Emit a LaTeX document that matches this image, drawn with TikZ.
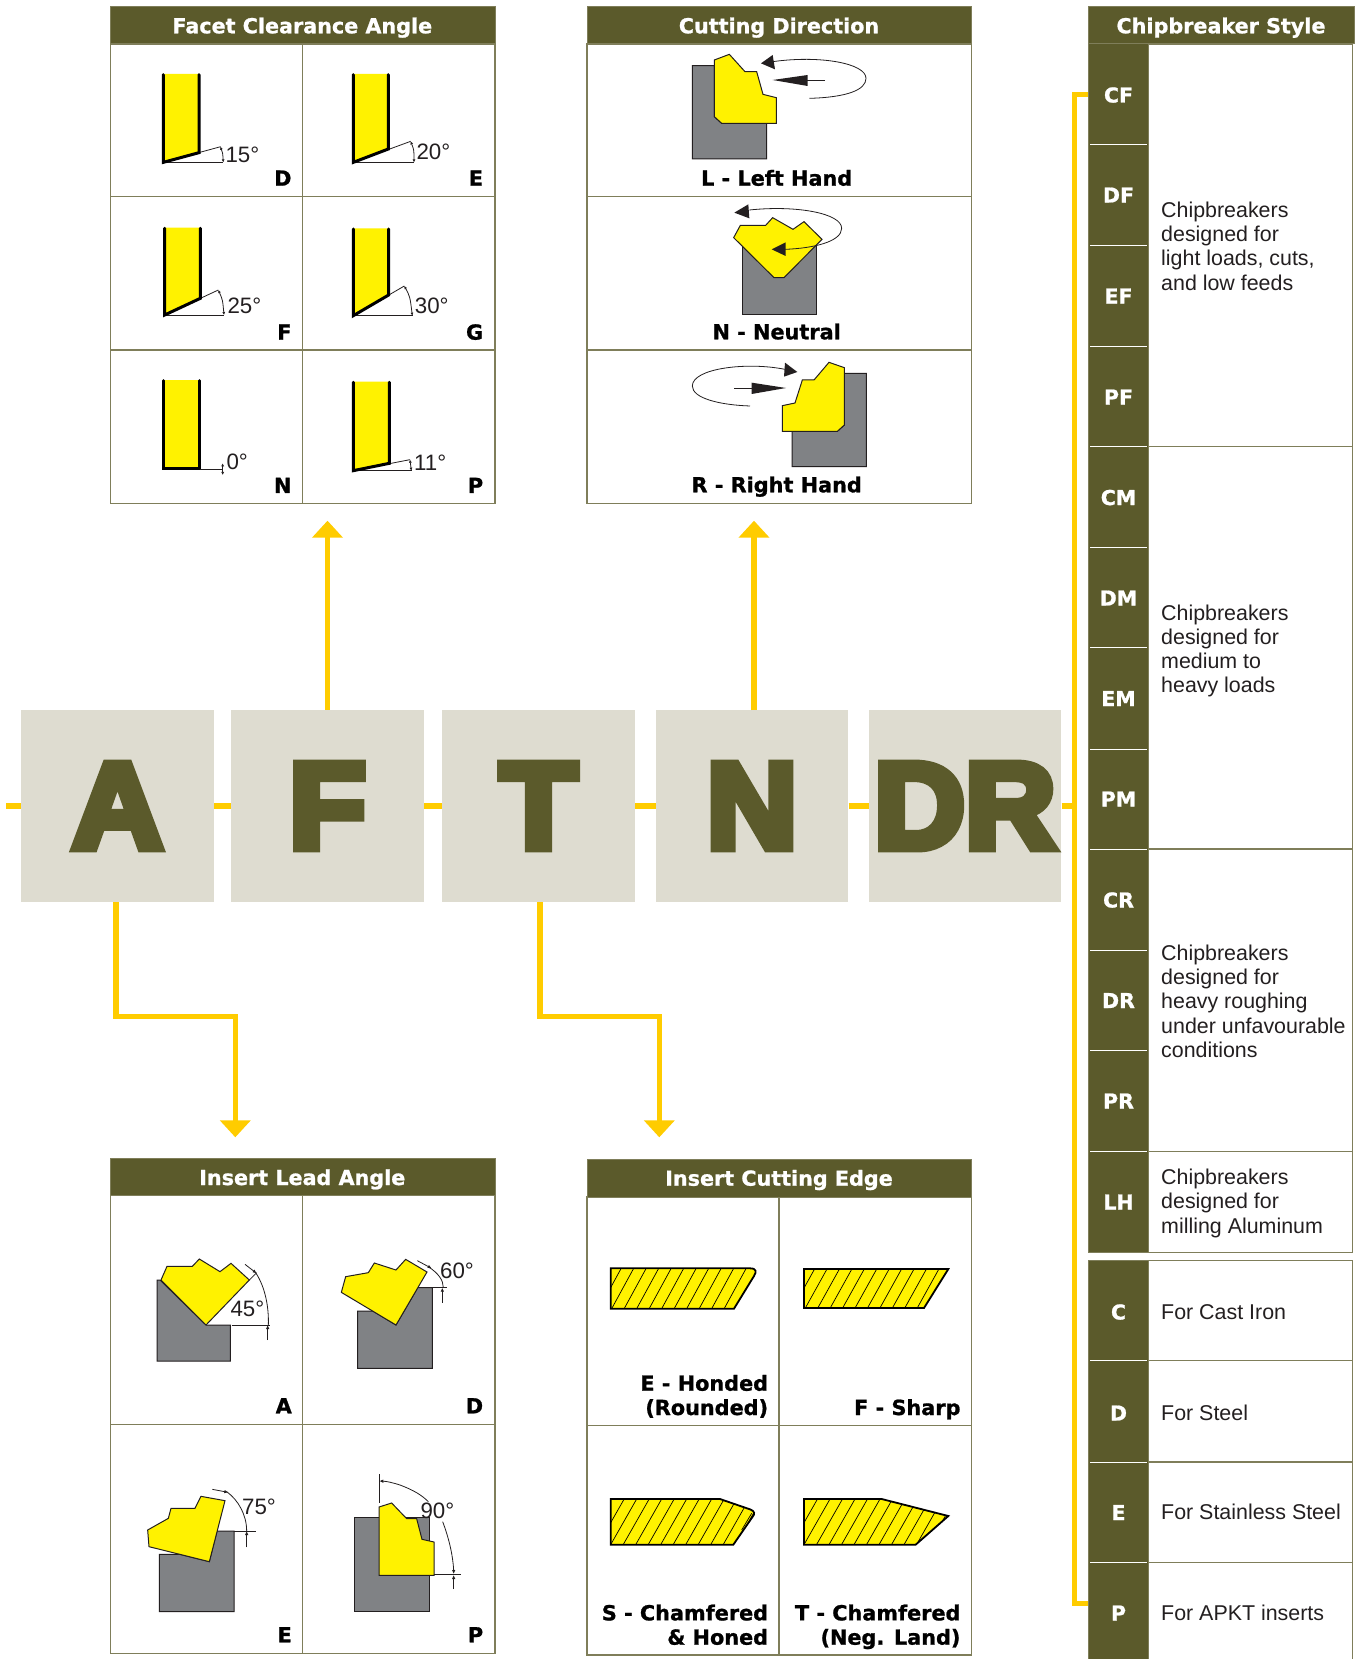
\documentclass[tikz,border=0pt]{standalone}
\usepackage{fontspec}
\usetikzlibrary{arrows.meta}
\setmainfont{Liberation Sans}
\newfontfamily\hvy[BoldFeatures={FakeBold=1}]{DejaVu Sans}
\newfontfamily\bigf[BoldFeatures={FakeStretch=1.03,FakeBold=7.3}]{Liberation Sans}
\definecolor{olivec}{HTML}{5B5A2B}
\definecolor{pline}{HTML}{7F7E5A}
\definecolor{connc}{HTML}{FFCC00}
\definecolor{ylw}{HTML}{FFF200}
\definecolor{gry}{HTML}{808285}
\definecolor{ink}{HTML}{231F20}
\definecolor{boxc}{HTML}{DEDCD0}
\tikzset{
 headt/.style={inner sep=0,anchor=base,text=white,font=\hvy\bfseries\fontsize{20.7}{24}\selectfont},
 codet/.style={inner sep=0,anchor=base,text=white,font=\hvy\bfseries\fontsize{20.5}{24}\selectfont},
 tagt/.style={inner sep=0,anchor=base east,text=black,align=right,font=\hvy\bfseries\fontsize{20.8}{24.3}\selectfont},
 ctag/.style={inner sep=0,anchor=base,text=black,font=\hvy\bfseries\fontsize{20.8}{24.3}\selectfont},
 bodyt/.style={inner sep=0,anchor=base west,text=ink,align=left,font=\fontsize{21.4}{24.2}\selectfont},
 dimt/.style={inner sep=0,anchor=base west,text=ink,font=\fontsize{22.3}{24}\selectfont},
 bigbox/.style={fill=boxc,minimum width=192.6pt,minimum height=192pt,inner sep=0,text=olivec,font=\bigf\bfseries\fontsize{122}{122}\selectfont},
 linkln/.style={draw=connc,line width=5.3pt,line join=miter},
 linkhead/.style={linkln,-{Triangle[length=17pt,width=30pt]}},
 pl/.style={draw=pline,line width=1.2pt},
 zoomed/.style={x=0.33333pt,y=-0.33333pt},
 ylwpoly/.style={fill=ylw,draw=ink,line width=1pt,line join=miter},
 stock/.style={fill=gry,draw=ink,line width=1pt},
 heavyln/.style={draw=black,line width=3pt,line cap=round},
 dimln/.style={draw=ink,line width=0.8pt},
 sm/.style={draw=ink,line width=0.8pt,-{Latex[length=4pt,width=3.5pt]}},
 smb/.style={draw=ink,line width=0.8pt,{Latex[length=3pt,width=3pt]}-{Latex[length=3pt,width=3pt]}},
 hatchln/.style={draw=black,line width=0.7pt},
 edgeln/.style={draw=black,line width=1.8pt,line join=miter},
 tri/.style={fill=ink},
}
\begin{document}
\begin{tikzpicture}[x=1pt,y=-1pt]
\useasboundingbox (0,0) rectangle (1356,1659);
\fill[white] (0,0) rectangle (1356,1659);

% big letters
\node[bigbox] (A) at (117.5,806) {A};
\node[bigbox] (F) at (327.5,806) {F};
\node[bigbox] (T) at (538.5,806) {T};
\node[bigbox] (N) at (752,806) {N};
\node[bigbox] (DR) at (965,806) {DR};

% connector anchors
\coordinate (start) at (6,806);
\coordinate (sm) at (1074.3,806);
\coordinate (stop) at (1074.3,94.5);
\coordinate (sbot) at (1074.3,1603.3);
\coordinate (cf) at (1089,94.5);
\coordinate (pr) at (1089,1603.3);
\coordinate (ftip) at (327.5,520.7);
\coordinate (nbase) at (754,710);
\coordinate (ntip) at (754,520.7);
\coordinate (abase) at (116,902);
\coordinate (a1) at (116,1016.7);
\coordinate (a2) at (235.3,1016.7);
\coordinate (atip) at (235.3,1137.3);
\coordinate (tbase) at (540,902);
\coordinate (t1) at (540,1016.7);
\coordinate (t2) at (659.3,1016.7);
\coordinate (ttip) at (659.3,1137.3);

\draw[linkln] (start) -- (A);
\draw[linkln] (A) -- (F);
\draw[linkln] (F) -- (T);
\draw[linkln] (T) -- (N);
\draw[linkln] (N) -- (DR);
\draw[linkln] (DR) -- (sm);
\draw[linkln] (cf) -- (stop) -- (sbot) -- (pr);
\draw[linkhead] (F) -- (ftip);
\draw[linkhead] (nbase) -- (ntip);
\draw[linkhead] (abase) -- (a1) -- (a2) -- (atip);
\draw[linkhead] (tbase) -- (t1) -- (t2) -- (ttip);

% ---------- Facet Clearance Angle
\draw[pl] (110.3,44) rectangle (495,503.3);
\draw[pl] (302.3,44) -- (302.3,503.3);
\draw[pl] (110.3,196.7) -- (495,196.7);
\draw[pl] (110.3,350) -- (495,350);
\filldraw[fill=olivec,draw=pline,line width=1pt] (110.3,6.7) rectangle (495,44);
\node[headt] (h1) at (302.3,33.3) {Facet Clearance Angle};

\begin{scope}[shift={(100,0)},zoomed]
 % D
 \draw[dimln] (190,487) -- (362,440); \draw[dimln] (190,487) -- (370,487);
 \draw[smb] (361,440) .. controls (368,458) .. (370,487);
 \fill[ylw] (190,222) -- (297,222) -- (297,458) -- (190,487) -- cycle;
 \draw[heavyln] (190,224) -- (190,487) -- (297,458) -- (297,224);
 % E
 \draw[dimln] (760,487) -- (932,424); \draw[dimln] (760,487) -- (943,487);
 \draw[smb] (932,424) .. controls (942,450) .. (942,487);
 \fill[ylw] (760,222) -- (865,222) -- (865,447) -- (760,487) -- cycle;
 \draw[heavyln] (760,224) -- (760,487) -- (865,447) -- (865,224);
 % F
 \draw[dimln] (194,945) -- (355,870); \draw[dimln] (194,945) -- (373,945);
 \draw[smb] (355,870) .. controls (368,900) .. (372,945);
 \fill[ylw] (194,683) -- (301,683) -- (301,895) -- (194,945) -- cycle;
 \draw[heavyln] (194,685) -- (194,945) -- (301,895) -- (301,685);
 % G
 \draw[dimln] (760,947) -- (913,858); \draw[dimln] (760,947) -- (938,947);
 \draw[smb] (913,858) .. controls (930,890) .. (937,947);
 \fill[ylw] (760,685) -- (866,685) -- (866,885) -- (760,947) -- cycle;
 \draw[heavyln] (760,687) -- (760,947) -- (866,885) -- (866,687);
 % N
 \fill[ylw] (190,1140) -- (299,1140) -- (299,1407) -- (190,1407) -- cycle;
 \draw[heavyln] (190,1142) -- (190,1407) -- (299,1407) -- (299,1142);
 \draw[dimln] (299,1407) -- (368,1407);
 \draw[smb] (368,1390) -- (368,1425);
 % P
 \draw[dimln] (760,1412) -- (930,1379); \draw[dimln] (760,1412) -- (935,1412);
 \draw[smb] (930,1379) -- (934,1412);
 \fill[ylw] (760,1145) -- (868,1145) -- (868,1390) -- (760,1412) -- cycle;
 \draw[heavyln] (760,1147) -- (760,1412) -- (868,1390) -- (868,1147);
 \node[dimt] (f1) at (376,487) {15°};
 \node[dimt] (f2) at (949,480) {20°};
 \node[dimt] (f3) at (382,942) {25°};
 \node[dimt] (f4) at (944,942) {30°};
 \node[dimt] (f5) at (379,1410) {0°};
 \node[dimt] (f6) at (942,1412) {11°};
 \node[tagt] (l1) at (575,557) {D};
 \node[tagt] (l2) at (1150,557) {E};
 \node[tagt] (l3) at (575,1019) {F};
 \node[tagt] (l4) at (1150,1019) {G};
 \node[tagt] (l5) at (575,1479) {N};
 \node[tagt] (l6) at (1150,1479) {P};
\end{scope}

% ---------- Cutting Direction
\draw[pl] (587,44) rectangle (971.3,503.3);
\draw[pl] (587,196.7) -- (971.3,196.7);
\draw[pl] (587,350) -- (971.3,350);
\filldraw[fill=olivec,draw=pline,line width=1pt] (587,6.7) rectangle (971.3,44);
\node[headt] (h2) at (779,33.3) {Cutting Direction};

\begin{scope}[shift={(580,0)},zoomed]
 % L
 \draw[stock] (337,197) -- (403,197) -- (403,350) -- (425,370) -- (560,370) -- (560,477) -- (337,477) -- cycle;
 \draw[ylwpoly] (403,180) -- (448,163) -- (495,215) -- (530,215) -- (549,283) -- (589,293) -- (589,370) -- (425,370) -- (403,350) -- cycle;
 \draw[dimln] (688,295) .. controls (800,292) and (858,270) .. (858,235) .. controls (858,190) and (720,165) .. (578,185);
 \fill[tri] (543,190) -- (578,165) -- (585,208) -- cycle;
 \draw[dimln] (735,240) -- (680,240);
 \fill[tri] (578,240) -- (683,225) -- (683,258) -- cycle;
 % N
 \draw[stock] (486,738) rectangle (708,945);
 \draw[ylwpoly] (481,676) -- (557,676) -- (578,653) -- (639,688) -- (672,665) -- (726,718) -- (612,833) -- (582,833) -- (461,713) -- cycle;
 \draw[dimln] (508,630) .. controls (650,615) and (785,640) .. (785,685) .. controls (785,725) and (700,745) .. (615,748);
 \fill[tri] (463,638) -- (505,613) -- (508,655) -- cycle;
 \fill[tri] (575,748) -- (617,727) -- (617,768) -- cycle;
 % R
 \draw[stock] (793,1120) -- (859,1120) -- (859,1400) -- (636,1400) -- (636,1294) -- (772,1294) -- (793,1275) -- cycle;
 \draw[ylwpoly] (607,1217) -- (645,1209) -- (667,1140) -- (702,1140) -- (747,1087) -- (793,1103) -- (793,1275) -- (772,1294) -- (607,1294) -- cycle;
 \draw[dimln] (510,1218) .. controls (420,1215) and (337,1195) .. (337,1158) .. controls (337,1105) and (500,1085) .. (615,1108);
 \fill[tri] (652,1116) -- (615,1088) -- (612,1130) -- cycle;
 \draw[dimln] (462,1164) -- (515,1164);
 \fill[tri] (618,1164) -- (515,1148) -- (515,1182) -- cycle;
 \node[ctag] (c1) at (590,557) {L - Left Hand};
 \node[ctag] (c2) at (590,1018) {N - Neutral};
 \node[ctag] (c3) at (590,1477) {R - Right Hand};
\end{scope}

% ---------- Insert Lead Angle
\draw[pl] (110.3,1195.7) rectangle (495,1653.3);
\draw[pl] (302.3,1195.7) -- (302.3,1653.3);
\draw[pl] (110.3,1424.7) -- (495,1424.7);
\filldraw[fill=olivec,draw=pline,line width=1pt] (110.3,1158.3) rectangle (495,1195.7);
\node[headt] (h3) at (302.3,1185) {Insert Lead Angle};

\begin{scope}[shift={(100,1150)},zoomed]
 % A
 \draw[stock] (171,390) -- (180,390) -- (318,525) -- (391,525) -- (391,633) -- (171,633) -- cycle;
 \draw[ylwpoly] (183,390) -- (201,349) -- (277,349) -- (298,327) -- (360,365) -- (393,340) -- (448,390) -- (318,525) -- cycle;
 \draw[dimln] (395,525) -- (510,525);
 \draw[dimln] (448,390) -- (470,368);
 \draw[dimln] (467,368) .. controls (495,410) and (507,470) .. (505,525);
 \draw[sm] (503,570) -- (503,525);
 \draw[sm] (435,343) -- (470,370);
 % D
 \draw[stock] (773,483) -- (818,483) -- (888,525) -- (953,413) -- (997,413) -- (997,655) -- (773,655) -- cycle;
 \draw[ylwpoly] (737,380) -- (805,368) -- (823,339) -- (888,360) -- (917,328) -- (981,366) -- (888,525) -- (724,427) -- cycle;
 \draw[dimln] (975,413) -- (1040,413);
 \draw[dimln] (985,350) .. controls (1015,370) and (1030,390) .. (1030,413);
 \draw[sm] (1027,458) -- (1027,413);
 \draw[sm] (952,332) -- (995,355);
 % E
 \draw[stock] (178,1213) -- (240,1213) -- (328,1235) -- (351,1143) -- (402,1143) -- (402,1385) -- (178,1385) -- cycle;
 \draw[ylwpoly] (143,1140) -- (205,1105) -- (213,1075) -- (285,1075) -- (303,1039) -- (375,1052) -- (328,1235) -- (147,1190) -- cycle;
 \draw[dimln] (402,1143) -- (467,1143);
 \draw[dimln] (380,1025) .. controls (415,1050) and (440,1095) .. (440,1143);
 \draw[sm] (440,1192) -- (440,1143);
 \draw[sm] (337,1018) -- (385,1027);
 % P
 \draw[stock] (764,1103) rectangle (988,1383);
 \draw[ylwpoly] (837,1071) -- (875,1059) -- (920,1106) -- (950,1106) -- (966,1168) -- (1002,1176) -- (1002,1276) -- (837,1276) -- cycle;
 \draw[dimln] (837,972) -- (837,1058);
 \draw[sm] (900,1005) .. controls (875,997) and (860,994) .. (838,993);
 \draw[dimln] (900,1005) .. controls (940,1020) and (965,1035) .. (985,1055);
 \draw[dimln] (1028,1115) .. controls (1045,1160) and (1058,1210) .. (1061,1260);
 \draw[dimln] (1002,1273) -- (1083,1273);
 \draw[sm] (1061,1317) -- (1061,1275);
 \draw[sm] (1061,1255) -- (1061,1272);
 \node[dimt] (a4) at (391,500) {45°};
 \node[dimt] (a6) at (1020,385) {60°};
 \node[dimt] (a7) at (426,1092) {75°};
 \node[dimt] (a9) at (961,1105) {90°};
 \node[tagt] (m1) at (576,790) {A};
 \node[tagt] (m2) at (1150,790) {D};
 \node[tagt] (m3) at (576,1477) {E};
 \node[tagt] (m4) at (1150,1477) {P};
\end{scope}

% ---------- Insert Cutting Edge
\draw[pl] (587,1197) rectangle (971.3,1655);
\draw[pl] (779,1197) -- (779,1655);
\draw[pl] (587,1425.7) -- (971.3,1425.7);
\filldraw[fill=olivec,draw=pline,line width=1pt] (587,1159.3) rectangle (971.3,1197);
\node[headt] (h4) at (779,1185.7) {Insert Cutting Edge};

\begin{scope}[shift={(580,1150)},zoomed]
 % E
 \fill[ylw] (92,355) -- (510,355) .. controls (530,355) and (530,365) .. (522,378) -- (462,476) -- (92,476) -- cycle;
 \begin{scope}
  \clip (92,355) -- (510,355) .. controls (530,355) and (530,365) .. (522,378) -- (462,476) -- (92,476) -- cycle;
  \foreach \i in {-1,...,11} \draw[hatchln] ({95+37.5*\i},476) -- ({95+37.5*\i+66},355);
 \end{scope}
 \draw[edgeln] (92,355) -- (510,355) .. controls (530,355) and (530,365) .. (522,378) -- (462,476) -- (92,476) -- cycle;
 % F
 \fill[ylw] (672,357) -- (1105,357) -- (1032,474) -- (672,474) -- cycle;
 \begin{scope}
  \clip (672,357) -- (1105,357) -- (1032,474) -- (672,474) -- cycle;
  \foreach \i in {-1,...,10} \draw[hatchln] ({676+37.3*\i},474) -- ({676+37.3*\i+65},357);
 \end{scope}
 \draw[edgeln] (672,357) -- (1105,357) -- (1032,474) -- (672,474) -- cycle;
 % S
 \fill[ylw] (92,1047) -- (420,1047) -- (510,1078) .. controls (525,1083) and (525,1092) .. (518,1100) -- (460,1184) -- (92,1184) -- cycle;
 \begin{scope}
  \clip (92,1047) -- (420,1047) -- (510,1078) .. controls (525,1083) and (525,1092) .. (518,1100) -- (460,1184) -- (92,1184) -- cycle;
  \foreach \i in {-1,...,11} \draw[hatchln] ({92+37.5*\i},1184) -- ({92+37.5*\i+78},1047);
  \draw[hatchln] (515,1090) -- (485,1140);
 \end{scope}
 \draw[edgeln] (92,1047) -- (420,1047) -- (510,1078) .. controls (525,1083) and (525,1092) .. (518,1100) -- (460,1184) -- (92,1184) -- cycle;
 % T
 \fill[ylw] (672,1047) -- (905,1047) -- (1105,1098) -- (1007,1184) -- (672,1184) -- cycle;
 \begin{scope}
  \clip (672,1047) -- (905,1047) -- (1105,1098) -- (1007,1184) -- (672,1184) -- cycle;
  \foreach \i in {-1,...,11} \draw[hatchln] ({672+37.5*\i},1184) -- ({672+37.5*\i+78},1047);
 \end{scope}
 \draw[edgeln] (672,1047) -- (905,1047) -- (1105,1098) -- (1007,1184) -- (672,1184) -- cycle;
 \node[tagt] (e1) at (565,795) {E - Honded\\(Rounded)};
 \node[tagt] (e2) at (1142,795) {F - Sharp};
 \node[tagt] (e3) at (565,1484) {S - Chamfered\\\& Honed};
 \node[tagt] (e4) at (1142,1484) {T - Chamfered\\(Neg. Land)};
\end{scope}

% ---------- Chipbreaker Style
\filldraw[fill=white,draw=pline,line width=1.2pt] (1148.3,44) rectangle (1352.7,1252.6);
\filldraw[fill=white,draw=pline,line width=1.2pt] (1148.3,1260.7) rectangle (1352.7,1670);
\foreach \y in {446.5,849,1151.5,1360.7,1462,1562.7} \draw[pl] (1148.3,\y) -- (1352.7,\y);
\filldraw[fill=olivec,draw=pline,line width=1pt] (1088.7,6.7) rectangle (1354,44);
\filldraw[fill=olivec,draw=pline,line width=1pt] (1088.7,44) rectangle (1148.3,1252.6);
\filldraw[fill=olivec,draw=pline,line width=1pt] (1088.7,1260.7) rectangle (1148.3,1670);
\foreach \y in {144.3,245,346,446.5,547,647.5,749,849,950,1050,1151.5,1360.7,1462,1562.7}
 \draw[white,line width=1pt] (1090,\y) -- (1147,\y);
\node[headt] (h5) at (1221,33.3) {Chipbreaker Style};
\foreach \t/\y in {CF/102.5,DF/202.5,EF/303.5,PF/404.5,CM/505,DM/605.5,EM/706,PM/806.5,CR/907.5,DR/1008,PR/1108.5,LH/1209.5,C/1319.5,D/1420.5,E/1520,P/1620.5}
 \node[codet] (code\t) at (1118.5,\y) {\t};
\node[bodyt] (b1) at (1161,290) {Chipbreakers\\designed for\\light loads, cuts,\\and low feeds};
\node[bodyt] (b2) at (1161,692.6) {Chipbreakers\\designed for\\medium to\\heavy loads};
\node[bodyt] (b3) at (1161,1057.3) {Chipbreakers\\designed for\\heavy roughing\\under unfavourable\\conditions};
\node[bodyt] (b4) at (1161,1233) {Chipbreakers\\designed for\\milling Aluminum};
\node[bodyt] (b5) at (1161,1319) {For Cast Iron};
\node[bodyt] (b6) at (1161,1420) {For Steel};
\node[bodyt] (b7) at (1161,1519.5) {For Stainless Steel};
\node[bodyt] (b8) at (1161,1620) {For APKT inserts};
\end{tikzpicture}
\end{document}
